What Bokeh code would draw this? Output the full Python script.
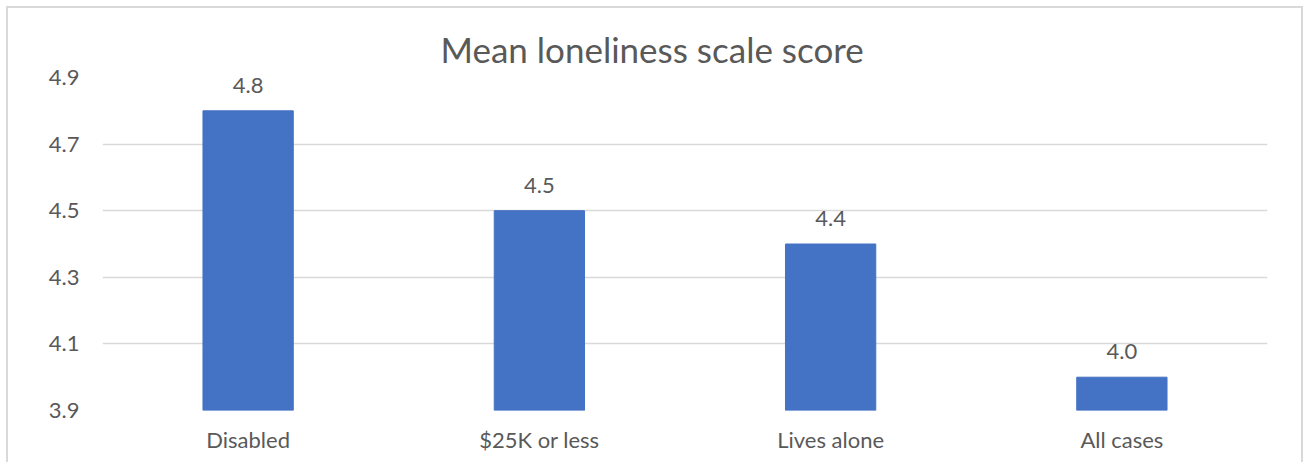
from bokeh.plotting import figure
from bokeh.models import ColumnDataSource, FixedTicker, LabelSet, Title, CustomJSTickFormatter
from bokeh.core.properties import value
from bokeh.embed import file_html
from bokeh.resources import INLINE

categories = ["Disabled", "$25K or less", "Lives alone", "All cases"]
values = [4.8, 4.5, 4.4, 4.0]
labels = ["4.8", "4.5", "4.4", "4.0"]
y_ticks = [3.9, 4.1, 4.3, 4.5, 4.7, 4.9]

FONT = "Lato"
TXT = "#595959"

src = ColumnDataSource(dict(cat=categories, val=values, lab=labels))

p = figure(x_range=categories, y_range=(3.9, 4.9), width=1297, height=456,
           output_backend="svg", toolbar_location=None,
           min_border_left=94, min_border_right=38, min_border_top=69, min_border_bottom=54)
p.styles = {"border-top": "2px solid #d9d9d9", "border-left": "2px solid #d9d9d9",
            "border-right": "2px solid #d9d9d9", "margin": "6px 0 0 6px"}

p.vbar(x="cat", top="val", bottom=3.9, width=0.31, source=src, color="#4472C4")

lbl = LabelSet(x="cat", y="val", text="lab", source=src, text_align="center",
               text_baseline="bottom", y_offset=18, text_font=value(FONT),
               text_font_size=value("22px"), text_color=TXT)
p.add_layout(lbl)

t = Title(text="Mean loneliness scale score", align="left", offset=338,
          text_font=FONT, text_font_size="35px", text_font_style="normal",
          text_color=TXT, standoff=16)
p.add_layout(t, "above")

p.outline_line_color = None
p.xgrid.grid_line_color = None
p.ygrid.grid_line_color = "#d9d9d9"
p.ygrid.grid_line_width = 1.5
p.yaxis.ticker = FixedTicker(ticks=y_ticks)
p.yaxis.formatter = CustomJSTickFormatter(code="return tick.toFixed(1);")

for ax in (p.xaxis, p.yaxis):
    ax.axis_line_color = None
    ax.major_tick_line_color = None
    ax.minor_tick_line_color = None
    ax.major_tick_out = 0
    ax.major_tick_in = 0
    ax.major_label_text_font = FONT
    ax.major_label_text_font_size = "22px"
    ax.major_label_text_color = TXT
p.yaxis.major_label_standoff = 23
p.xaxis.major_label_standoff = 15

open("out.html", "w").write(file_html(p, INLINE))
